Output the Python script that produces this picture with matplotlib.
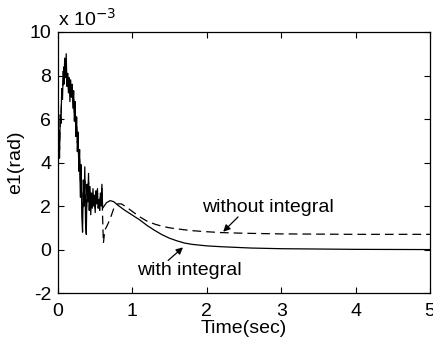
import matplotlib
matplotlib.use("Agg")
import matplotlib.pyplot as plt

plt.rcParams['font.family'] = ['Liberation Sans', 'DejaVu Sans']
plt.rcParams['axes.unicode_minus'] = False

# Time samples (s) and errors (x 1e-3 rad)
t_early = [0.00, 0.01, 0.02, 0.03, 0.04, 0.05, 0.06, 0.07, 0.08, 0.09,
           0.10, 0.11, 0.12, 0.13, 0.14, 0.15, 0.16, 0.17, 0.18, 0.19,
           0.20, 0.21, 0.22, 0.23, 0.24, 0.25, 0.26, 0.27, 0.28, 0.29,
           0.30, 0.31, 0.32, 0.33, 0.34, 0.35, 0.36, 0.37, 0.38, 0.39,
           0.40, 0.41, 0.42, 0.43, 0.44, 0.45, 0.46, 0.47, 0.48, 0.49,
           0.50, 0.51, 0.52, 0.53, 0.54, 0.55, 0.56, 0.57, 0.58, 0.59, 0.60]
with_early = [3.6, 5.5, 4.2, 6.2, 5.8, 7.4, 6.9, 8.2, 7.6, 8.8,
              7.9, 9.0, 7.5, 8.1, 7.2, 7.9, 6.8, 7.8, 7.0, 7.6,
              6.5, 7.3, 5.9, 6.8, 5.2, 6.1, 4.5, 5.4, 3.6, 4.6,
              2.4, 3.9, 1.5, 0.8, 3.2, 2.0, 3.8, 1.2, 0.7, 3.0,
              2.2, 3.5, 1.8, 2.9, 1.6, 2.6, 1.9, 2.8, 2.0, 2.5,
              1.7, 2.7, 2.1, 2.8, 1.9, 2.3, 1.8, 2.6, 2.0, 3.0, 1.9]
without_early = [3.9, 5.0, 4.6, 6.0, 6.3, 7.0, 7.3, 7.9, 8.4, 8.1,
                 8.6, 8.2, 7.8, 7.7, 7.6, 7.4, 7.3, 7.1, 7.3, 7.0,
                 6.8, 6.9, 6.3, 6.4, 5.7, 5.8, 4.9, 5.0, 4.1, 4.2,
                 3.1, 3.3, 2.3, 1.9, 2.6, 2.5, 3.3, 2.1, 1.6, 2.6,
                 2.4, 3.1, 2.2, 2.7, 2.0, 2.4, 2.1, 2.6, 2.2, 2.4,
                 1.9, 2.5, 2.2, 2.6, 2.1, 2.2, 2.0, 2.4, 2.1, 2.8, 1.4]

t_with_late = [0.62, 0.65, 0.70, 0.75, 0.80, 0.90, 1.0, 1.1, 1.2, 1.3,
               1.4, 1.5, 1.6, 1.7, 1.8, 2.0, 2.2, 2.6, 3.0, 4.0, 5.0]
with_late = [2.0, 2.15, 2.25, 2.2, 2.05, 1.8, 1.58, 1.36, 1.1, 0.88,
             0.68, 0.52, 0.40, 0.30, 0.24, 0.17, 0.13, 0.07, 0.04, 0.01, 0.0]

t_without_late = [0.61, 0.63, 0.66, 0.70, 0.75, 0.80, 0.85, 0.90, 1.0, 1.1,
                  1.2, 1.3, 1.4, 1.5, 1.6, 1.8, 2.0, 2.2, 2.5, 3.0, 4.0, 5.0]
without_late = [0.3, 0.9, 1.1, 1.4, 1.9, 2.1, 2.1, 2.0, 1.75, 1.5,
                1.3, 1.17, 1.07, 1.0, 0.95, 0.87, 0.82, 0.78, 0.75, 0.72, 0.70, 0.70]

x_ticks = [0, 1, 2, 3, 4, 5]
y_ticks = [-2, 0, 2, 4, 6, 8, 10]

fig = plt.figure(figsize=(4.33, 3.44), dpi=100)
ax = fig.add_axes([0.134, 0.148, 0.859, 0.759])

ax.plot(t_early + t_without_late, without_early + without_late,
        color='black', lw=0.9, linestyle=(0, (7, 4)))
ax.plot(t_early + t_with_late, with_early + with_late,
        color='black', lw=0.9)

ax.set_xlim(0, 5)
ax.set_ylim(-2, 10)
ax.set_xticks(x_ticks)
ax.set_yticks(y_ticks)
ax.tick_params(direction='in', top=True, right=True, labelsize=14, length=4, width=0.8)
ax.tick_params(axis='x', pad=7)
ax.tick_params(axis='y', pad=5)
for s in ax.spines.values():
    s.set_linewidth(0.9)

ax.set_xlabel('Time(sec)', fontsize=14, labelpad=0)
ax.set_ylabel('e1(rad)', fontsize=14, labelpad=4)
ax.text(0.0, 1.01, r'x 10$^{-3}$', transform=ax.transAxes, fontsize=14,
        ha='left', va='bottom')

ax.text(1.94, 1.72, 'without integral', fontsize=14, ha='left', va='baseline')
ax.annotate('', xy=(2.22, 0.82), xytext=(2.42, 1.5),
            arrowprops=dict(arrowstyle='-|>', color='black', lw=0.9, mutation_scale=10,
                            shrinkA=0, shrinkB=0))
ax.text(1.06, -1.17, 'with integral', fontsize=14, ha='left', va='baseline')
ax.annotate('', xy=(1.68, 0.1), xytext=(1.48, -0.5),
            arrowprops=dict(arrowstyle='-|>', color='black', lw=0.9, mutation_scale=10,
                            shrinkA=0, shrinkB=0))

fig.savefig('out.png', dpi=100)
